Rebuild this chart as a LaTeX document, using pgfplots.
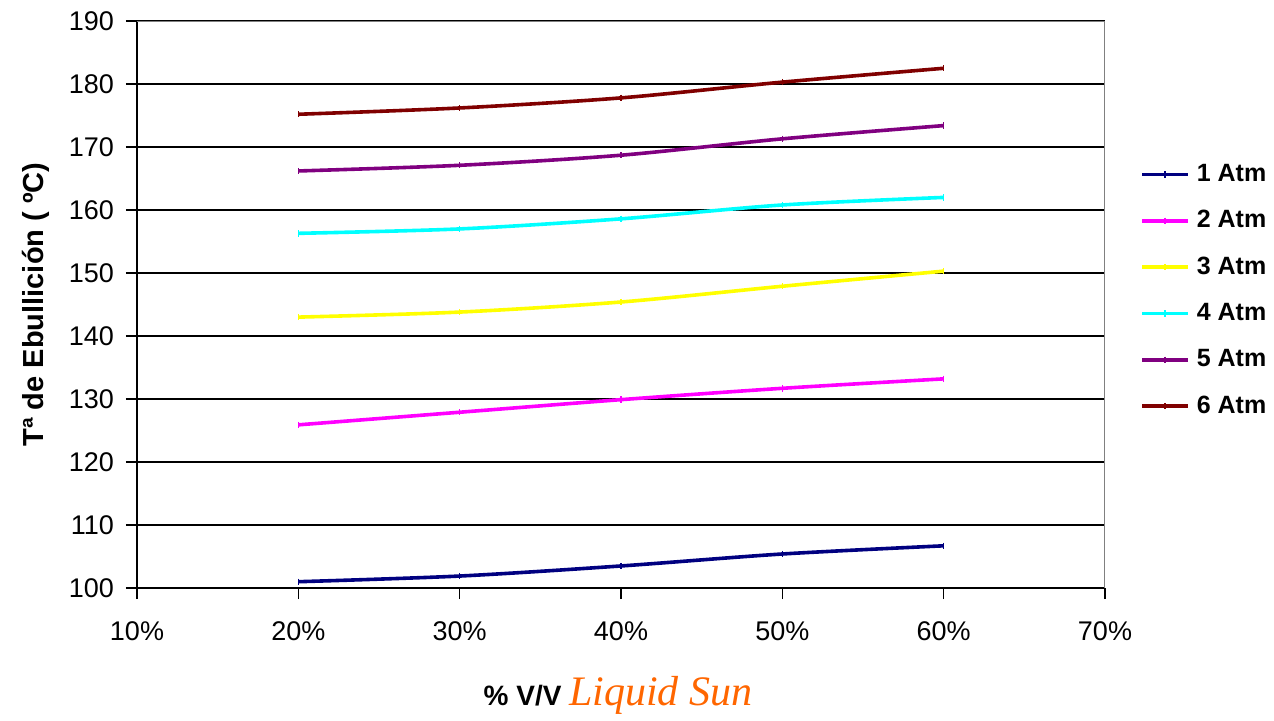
\documentclass[border=0pt]{standalone}
\usepackage{pgfplots}
\pgfplotsset{compat=1.18}
\usepackage{fontspec}
\setmainfont{Liberation Sans}
\newfontfamily\brandfont{Liberation Serif}

\definecolor{atmone}{HTML}{000080}
\definecolor{atmtwo}{HTML}{FF00FF}
\definecolor{atmthree}{HTML}{FFFF00}
\definecolor{atmfour}{HTML}{00FFFF}
\definecolor{atmfive}{HTML}{800080}
\definecolor{atmsix}{HTML}{800000}
\definecolor{brandorange}{HTML}{FF6600}
\definecolor{frame}{HTML}{808080}

\begin{document}
\begin{tikzpicture}
\begin{axis}[
  scale only axis,
  width=484pt, height=283.5pt,
  xmin=10, xmax=70, ymin=100, ymax=190,
  xtick={10,20,...,70}, ytick={100,110,...,190},
  xticklabel={\pgfmathprintnumber{\tick}\%},
  /pgf/number format/assume math mode=true,
  tick label style={font=\fontsize{13.5}{16}\selectfont},
  yticklabel style={xshift=-2.5pt},
  xticklabel style={yshift=-8pt},
  axis x line*=bottom, axis y line*=left,
  axis line style={black, line width=0.8pt},
  tick style={black, line width=0.8pt},
  tick align=outside, major tick length=5.5pt,
  ymajorgrids, grid style={black, line width=0.8pt},
  xlabel={\bfseries\fontsize{14}{17}\selectfont \% V/V \textcolor{brandorange}{\brandfont\mdseries\itshape\fontsize{21}{23}\selectfont Liquid Sun}},
  ylabel={\bfseries\fontsize{14.5}{17}\selectfont Tª de Ebullición ( ºC)},
  xlabel style={at={(axis description cs:0.497,-0.189)}, anchor=center},
  ylabel style={at={(axis description cs:-0.104,0.5)}, anchor=center},
  legend style={draw=none, fill=none, at={(rel axis cs:1.036,0.755)}, anchor=north west,
    font=\bfseries\fontsize{12.5}{15}\selectfont, row sep=9pt, inner sep=0pt,
    nodes={inner xsep=3.5pt}},
  legend cell align=left,
  legend image code/.code={\draw[mark repeat=2, mark phase=2, #1] plot coordinates {(0pt,0pt) (11.5pt,0pt) (23pt,0pt)};},
  every axis plot/.append style={line width=1.8pt, smooth, tension=0.5, mark=|, mark size=1.6pt, mark options={line width=0.8pt}},
]
\addplot[atmone] coordinates {(20,101.0) (30,101.9) (40,103.5) (50,105.4) (60,106.7)};
\addlegendentry{1 Atm}
\addplot[atmtwo] coordinates {(20,125.9) (30,127.9) (40,129.9) (50,131.7) (60,133.2)};
\addlegendentry{2 Atm}
\addplot[atmthree] coordinates {(20,143.0) (30,143.8) (40,145.4) (50,147.9) (60,150.3)};
\addlegendentry{3 Atm}
\addplot[atmfour] coordinates {(20,156.3) (30,157.0) (40,158.6) (50,160.8) (60,162.0)};
\addlegendentry{4 Atm}
\addplot[atmfive] coordinates {(20,166.2) (30,167.1) (40,168.7) (50,171.3) (60,173.4)};
\addlegendentry{5 Atm}
\addplot[atmsix] coordinates {(20,175.2) (30,176.2) (40,177.8) (50,180.3) (60,182.5)};
\addlegendentry{6 Atm}
\draw[frame, line width=1pt] (rel axis cs:0,1) -- (rel axis cs:1,1) -- (rel axis cs:1,0);
\end{axis}
\path (-68.5pt,-66pt) rectangle (568.5pt,294pt);
\end{tikzpicture}
\end{document}
